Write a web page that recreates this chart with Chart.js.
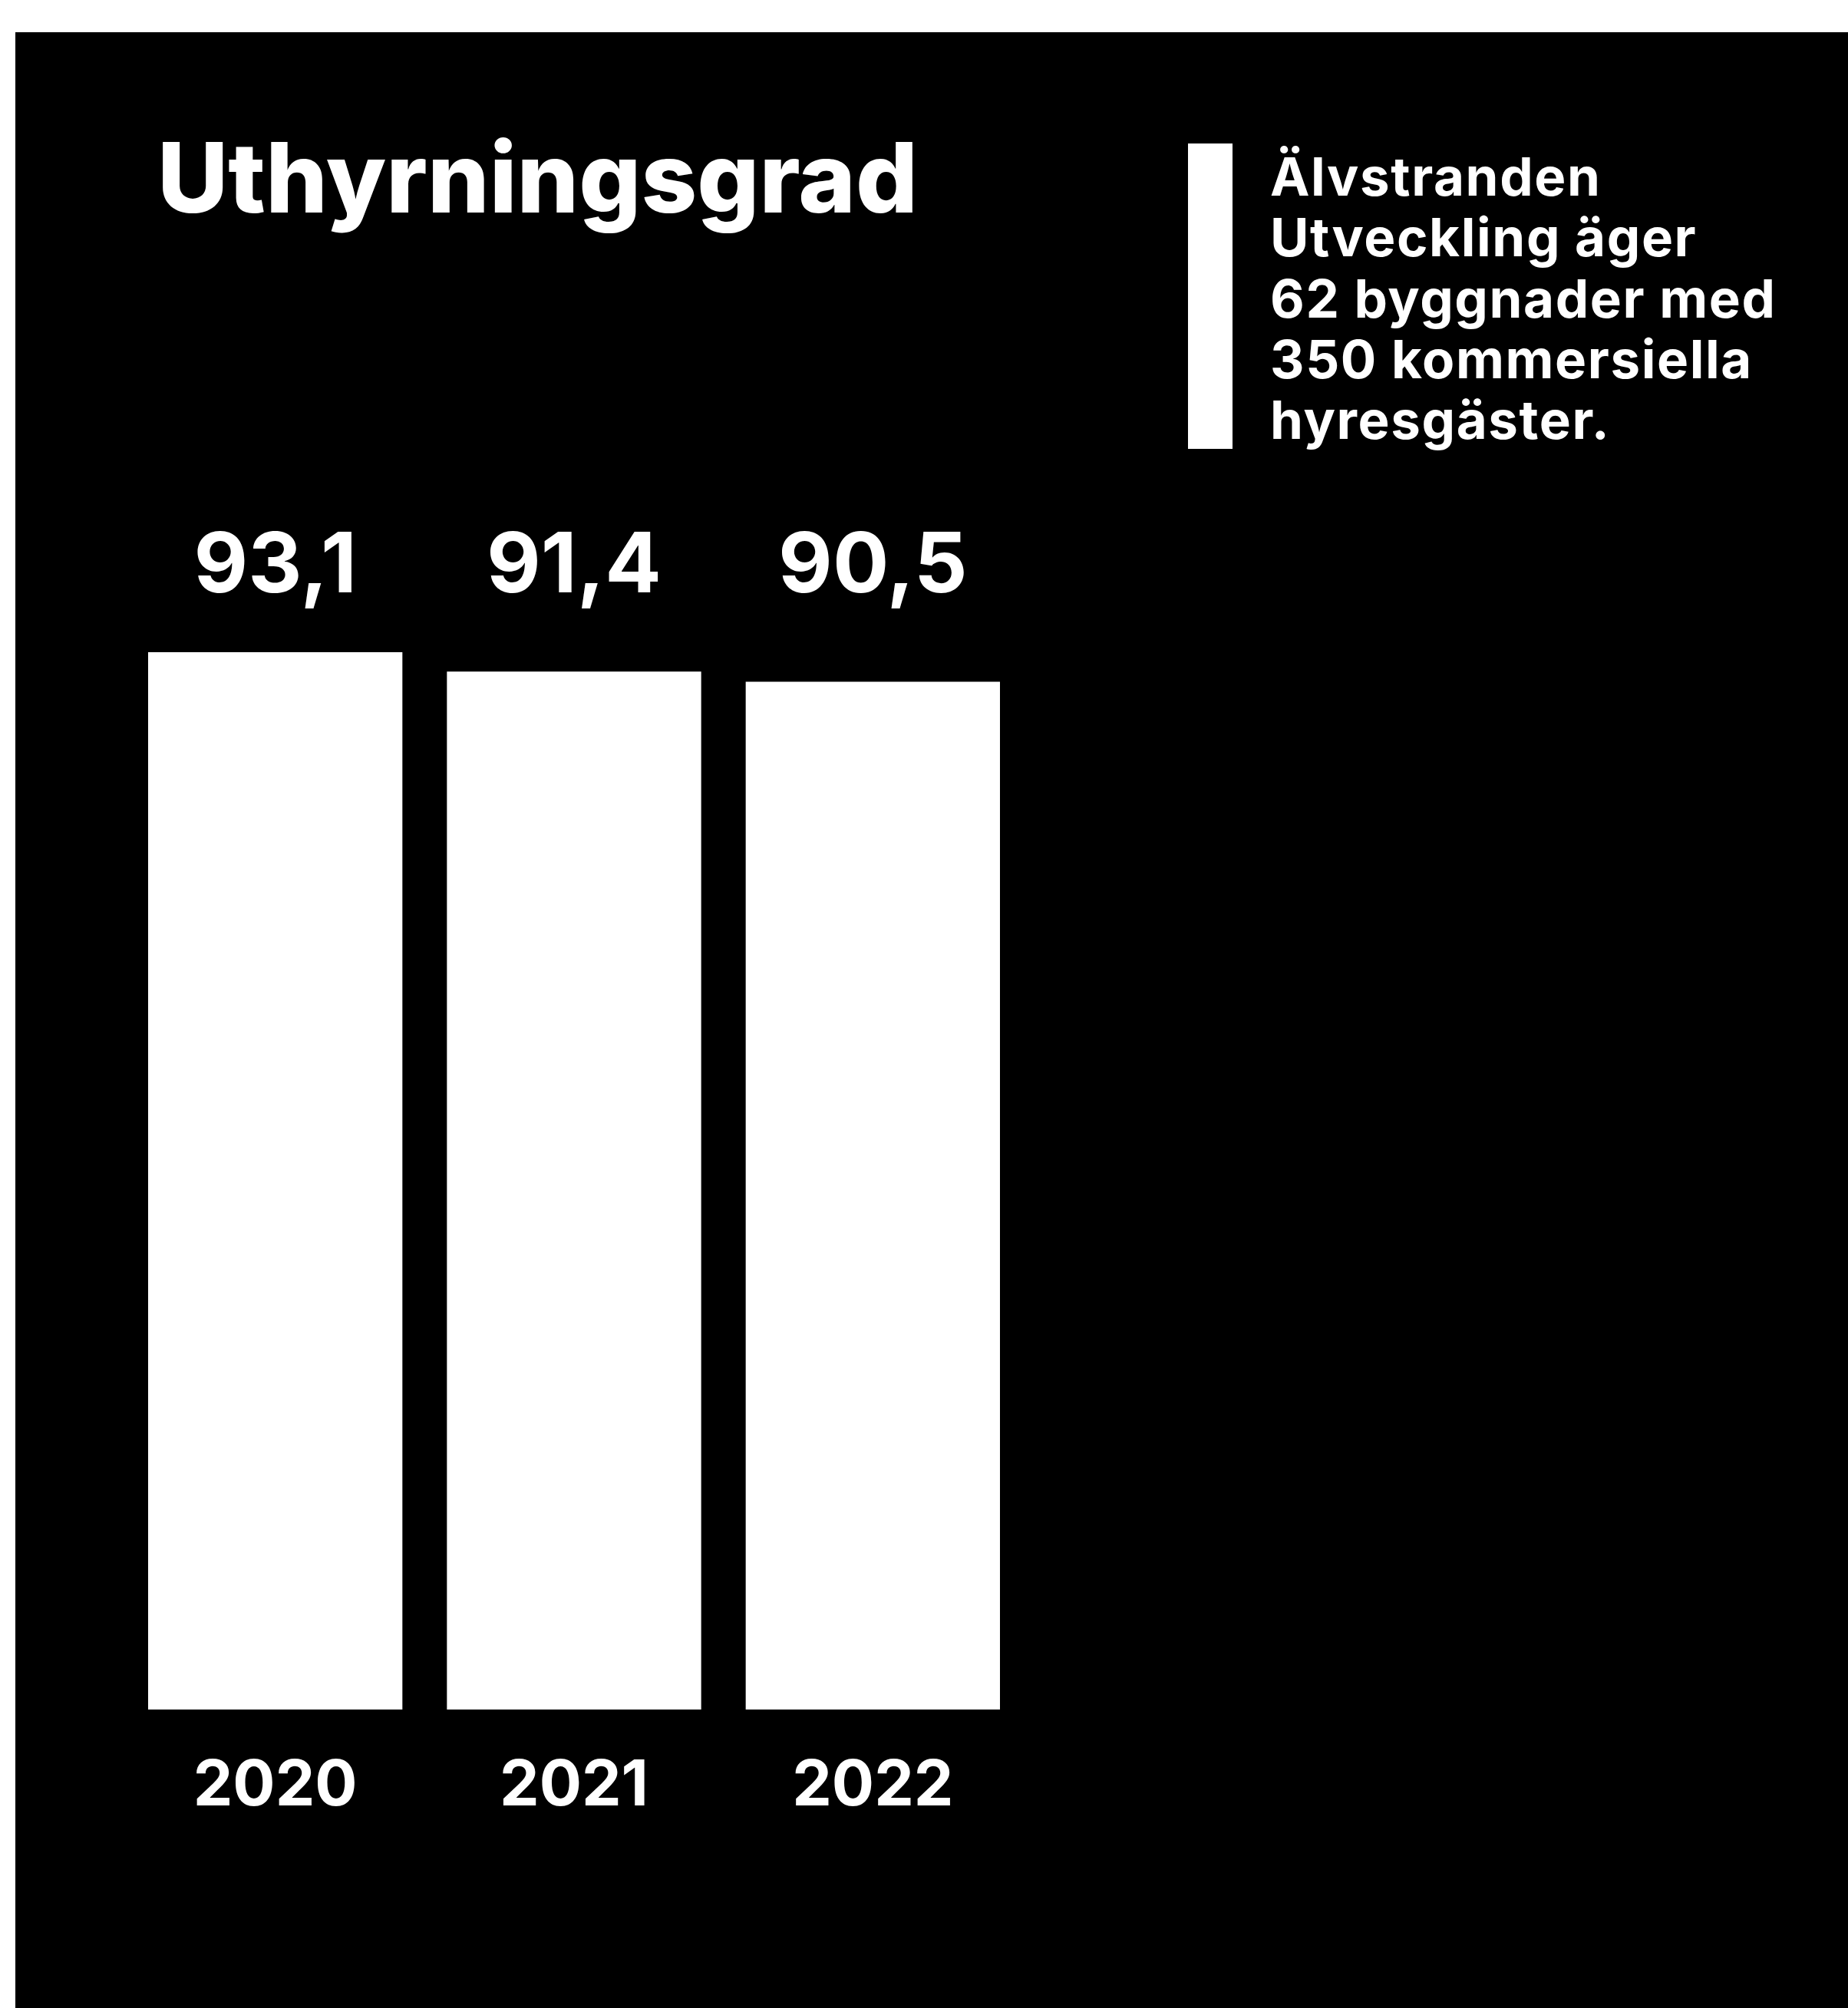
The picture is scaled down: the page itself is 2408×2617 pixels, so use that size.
<!DOCTYPE html>
<html lang="sv">
<head>
<meta charset="utf-8">
<title>Uthyrningsgrad</title>
<script src="https://cdn.jsdelivr.net/npm/chart.js@4.4.1/dist/chart.umd.min.js"></script>
<style>
  html, body { margin: 0; padding: 0; background: #fff; }
  #panel { position: absolute; left: 20px; top: 42px; width: 2388px; height: 2575px; background: #000; }
  #wrap { position: absolute; left: 0; top: 0; width: 2408px; height: 2617px; }
</style>
</head>
<body>
<div id="panel"></div>
<div id="wrap"><canvas id="grafico"></canvas></div>
<script>
const rubrik = 'Uthyrningsgrad';
const ar = ['2020', '2021', '2022'];
const uthyrningsgrad = [93.1, 91.4, 90.5];
const notisRader = ['Älvstranden', 'Utveckling äger', '62 byggnader med', '350 kommersiella', 'hyresgäster.'];

const FONT = 'Inter, "Noto Sans", sans-serif';
const formatera = v => v.toFixed(1).replace('.', ',');

// Rubrik, notis och värden ovanför staplarna
const texter = {
  id: 'texter',
  afterDatasetsDraw(chart) {
    const ctx = chart.ctx;
    ctx.save();
    ctx.fillStyle = '#fff';
    ctx.textBaseline = 'alphabetic';

    ctx.textAlign = 'left';
    ctx.font = `800 127px ${FONT}`;
    ctx.fillText(rubrik, 205, 277);

    // vit list till vänster om notisen
    ctx.fillRect(1548, 187, 58, 398);
    ctx.font = `700 69px ${FONT}`;
    ctx.letterSpacing = '1.6px';
    notisRader.forEach((rad, i) => ctx.fillText(rad, 1655, 255 + i * 79.3));
    ctx.letterSpacing = '0px';

    ctx.textAlign = 'center';
    ctx.font = `700 109px ${FONT}`;
    chart.getDatasetMeta(0).data.forEach((stapel, i) => {
      ctx.fillText(formatera(uthyrningsgrad[i]), stapel.x, 772);
    });
    ctx.restore();
  }
};

new Chart(document.getElementById('grafico'), {
  type: 'bar',
  data: {
    labels: ar,
    datasets: [{
      data: uthyrningsgrad,
      backgroundColor: '#fff',
      borderWidth: 0,
      barPercentage: 0.851,
      categoryPercentage: 1
    }]
  },
  options: {
    responsive: true,
    maintainAspectRatio: false,
    animation: false,
    devicePixelRatio: 1,
    layout: { padding: { left: 164, right: 1076, top: 748, bottom: 248 } },
    plugins: {
      legend: { display: false },
      tooltip: { enabled: false }
    },
    scales: {
      x: {
        grid: { display: false, drawTicks: false },
        border: { display: false },
        ticks: {
          color: '#fff',
          padding: 59,
          font: { family: FONT, size: 82, weight: '700', lineHeight: 1 }
        },
        afterFit: s => { s.height = 141; }
      },
      y: { display: false, min: 0, max: 100 }
    }
  },
  plugins: [texter]
});
</script>
</body>
</html>
